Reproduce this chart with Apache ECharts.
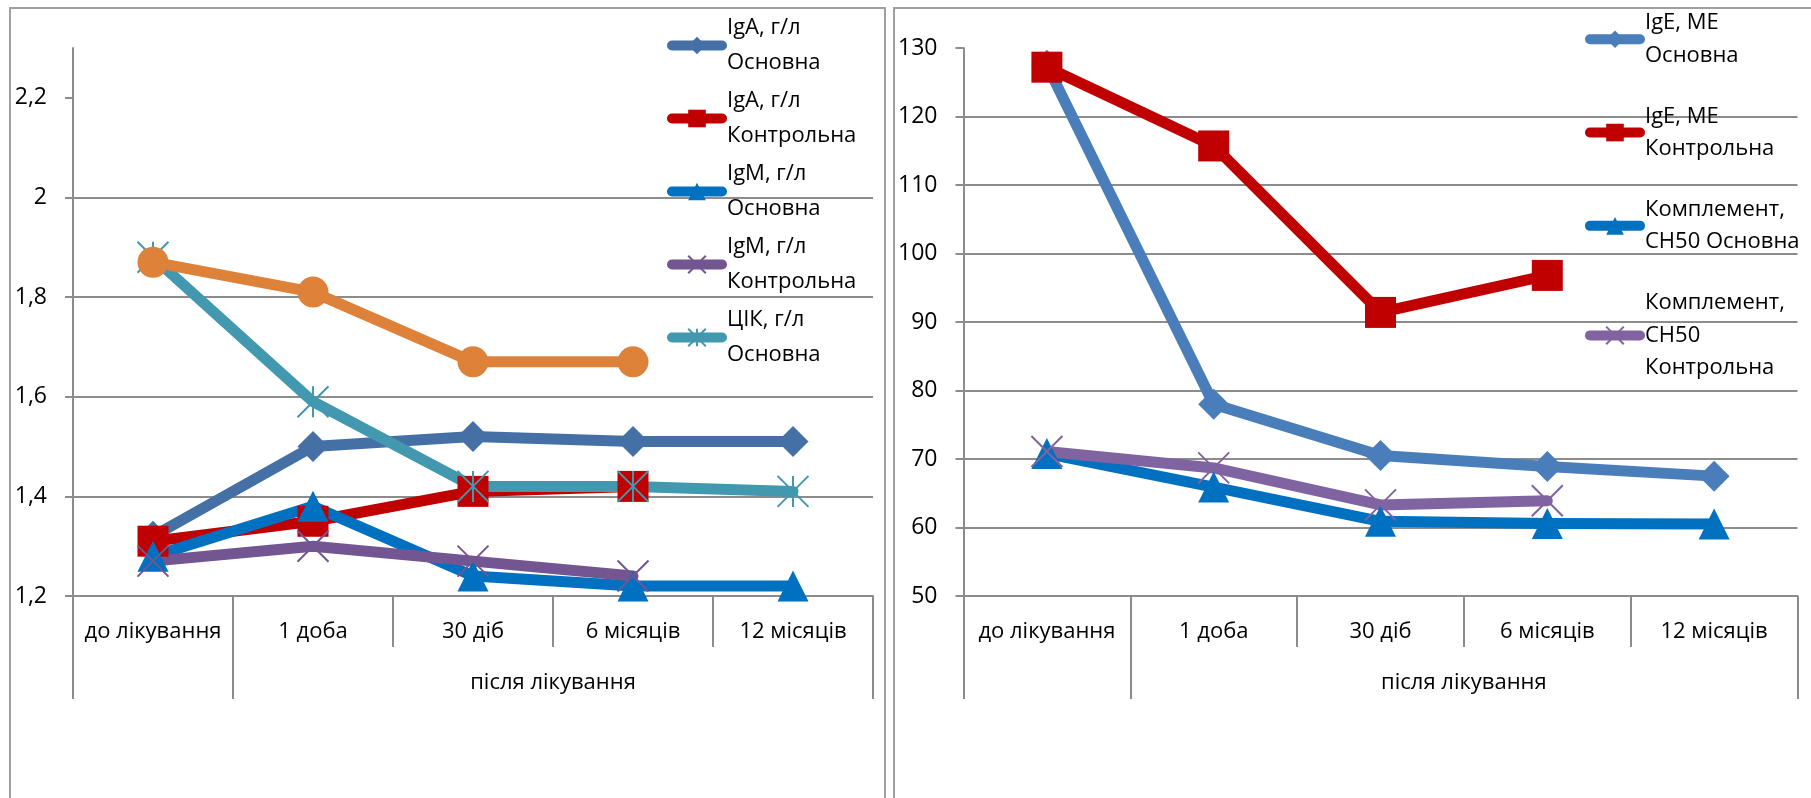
<!DOCTYPE html>
<html>
<head>
<meta charset="utf-8">
<script src="https://cdn.jsdelivr.net/npm/echarts@6/dist/echarts.min.js"></script>
<style>
  html, body { margin: 0; padding: 0; background: #fff; }
  #chart { width: 1811px; height: 798px; }
</style>
</head>
<body>
<div id="chart"></div>
<script>
// Time points of the observation and the group caption under the last four
const categories = ['до лікування', '1 доба', '30 діб', '6 місяців', '12 місяців'];
const groupLabel = 'після лікування';

// Left panel, г/л
const leftTicks = [1.2, 1.4, 1.6, 1.8, 2, 2.2];
const igaMain = [1.32, 1.50, 1.52, 1.51, 1.51];
const igaControl = [1.31, 1.35, 1.41, 1.42, null];
const igmMain = [1.28, 1.38, 1.24, 1.22, 1.22];
const igmControl = [1.27, 1.30, 1.27, 1.24, null];
const cicMain = [1.88, 1.59, 1.42, 1.42, 1.41];
const cicControl = [1.87, 1.81, 1.67, 1.67, null];

// Right panel
const rightTicks = [50, 60, 70, 80, 90, 100, 110, 120, 130];
const igeMain = [127.5, 78, 70.5, 68.9, 67.5];
const igeControl = [127.2, 115.7, 91.4, 96.8, null];
const complMain = [70.8, 65.9, 60.9, 60.6, 60.5];
const complControl = [71.1, 68.7, 63.3, 63.9, null];

const FONT = 'Open Sans';
const AXIS_GRAY = '#8c8c8c';
const FRAME_GRAY = '#a0a0a0';
const TEXT = { fontFamily: FONT, fontSize: 22, color: '#000' };

const X_MARK = 'path://M0,0L10,10M10,0L0,10';
const STAR_MARK = 'path://M0,0L10,10M10,0L0,10M5,0L5,10';

const commaNum = v => String(+(+v).toFixed(1)).replace('.', ',');

function categoryAxis(gridIndex) {
  return {
    type: 'category', gridIndex, data: categories, boundaryGap: true,
    axisLine: { show: true, lineStyle: { color: AXIS_GRAY, width: 2 } },
    axisTick: { show: true, interval: 0, length: 51, lineStyle: { color: AXIS_GRAY, width: 2 } },
    axisLabel: Object.assign({ interval: 0, margin: 25 }, TEXT),
    splitLine: { show: false }
  };
}

// Second row of the axis: separators and the shared caption for the post-treatment points
function groupAxis(gridIndex) {
  const n = categories.length;
  return {
    type: 'value', gridIndex, min: 0, max: n, position: 'bottom',
    axisLine: { show: false }, splitLine: { show: false },
    axisTick: { show: true, customValues: [0, 1, n], length: 103, lineStyle: { color: AXIS_GRAY, width: 2 } },
    axisLabel: Object.assign({ show: true, customValues: [(1 + n) / 2], formatter: () => groupLabel, margin: 76 }, TEXT)
  };
}

function valueAxis(gridIndex, min, max, interval, ticks, fmt) {
  return {
    type: 'value', gridIndex, min, max, interval,
    axisLine: { show: true, lineStyle: { color: AXIS_GRAY, width: 2 } },
    axisTick: { show: true, length: 8, customValues: ticks, lineStyle: { color: AXIS_GRAY, width: 2 } },
    axisLabel: Object.assign({ customValues: ticks, formatter: fmt, margin: 26 }, TEXT, { fontSize: 23 }),
    splitLine: { show: true, showMaxLine: false, lineStyle: { color: AXIS_GRAY, width: 2 } }
  };
}

function lineSeries(name, data, color, symbol, axisIndex, stroked) {
  return {
    type: 'line', name, data,
    xAxisIndex: axisIndex * 2, yAxisIndex: axisIndex,
    symbol, symbolSize: 31, showAllSymbol: true,
    lineStyle: { color, width: 11, cap: 'round', join: 'round' },
    itemStyle: stroked
      ? { color: 'rgba(0,0,0,0)', borderColor: color, borderWidth: 2 }
      : { color },
    emphasis: { disabled: true },
    animation: false
  };
}

const S = {
  igaMain: 'IgA, г/л\nОсновна',
  igaControl: 'IgA, г/л\nКонтрольна',
  igmMain: 'IgM, г/л\nОсновна',
  igmControl: 'IgM, г/л\nКонтрольна',
  cicMain: 'ЦІК, г/л\nОсновна',
  cicControl: 'ЦІК, г/л\nКонтрольна',
  igeMain: 'IgE, МЕ\nОсновна',
  igeControl: 'IgE, МЕ\nКонтрольна',
  complMain: 'Комплемент,\nCH50 Основна',
  complControl: 'Комплемент,\nCH50\nКонтрольна'
};

const legendBase = {
  orient: 'vertical', padding: 0, itemWidth: 50, itemHeight: 22,
  selectedMode: false,
  lineStyle: { width: 10, cap: 'round' }
};

const option = {
  backgroundColor: '#fff',
  animation: false,
  textStyle: { fontFamily: FONT },
  graphic: [
    { type: 'rect', silent: true, shape: { x: 10, y: 8, width: 875, height: 900 },
      style: { fill: 'none', stroke: FRAME_GRAY, lineWidth: 2 } },
    { type: 'rect', silent: true, shape: { x: 894, y: 8, width: 1000, height: 900 },
      style: { fill: 'none', stroke: FRAME_GRAY, lineWidth: 2 } }
  ],
  grid: [
    { left: 73, right: 938, top: 48, bottom: 202 },
    { left: 963.5, right: 13.5, top: 48, bottom: 202 }
  ],
  xAxis: [categoryAxis(0), groupAxis(0), categoryAxis(1), groupAxis(1)],
  yAxis: [
    valueAxis(0, 1.2, 2.3, 0.2, leftTicks, commaNum),
    valueAxis(1, 50, 130, 10, rightTicks, v => String(v))
  ],
  legend: [
    Object.assign({}, legendBase, {
      left: 667, top: 17, itemGap: 16,
      textStyle: Object.assign({ lineHeight: 35, padding: [0, 0, -35, 0] }, TEXT),
      data: [S.igaMain, S.igaControl, S.igmMain, S.igmControl, S.cicMain]
    }),
    Object.assign({}, legendBase, {
      left: 1585, top: 12, itemGap: 38.8,
      textStyle: Object.assign({ lineHeight: 32.5, padding: [0, 0, -32.5, 0] }, TEXT),
      data: [
        S.igeMain, S.igeControl, S.complMain,
        { name: S.complControl, textStyle: { padding: [0, 0, -65, 0] } }
      ]
    })
  ],
  series: [
    lineSeries(S.igaMain, igaMain, '#4470a6', 'diamond', 0),
    lineSeries(S.igaControl, igaControl, '#c00000', 'rect', 0),
    lineSeries(S.igmMain, igmMain, '#0070c0', 'triangle', 0),
    lineSeries(S.igmControl, igmControl, '#735592', X_MARK, 0, true),
    lineSeries(S.cicMain, cicMain, '#4198af', STAR_MARK, 0, true),
    lineSeries(S.cicControl, cicControl, '#de8139', 'circle', 0),
    lineSeries(S.igeMain, igeMain, '#4a7ebb', 'diamond', 1),
    lineSeries(S.igeControl, igeControl, '#c00000', 'rect', 1),
    lineSeries(S.complMain, complMain, '#0070c0', 'triangle', 1),
    lineSeries(S.complControl, complControl, '#8064a2', X_MARK, 1, true)
  ]
};

const chart = echarts.init(document.getElementById('chart'), null, { renderer: 'canvas' });
chart.setOption(option);
</script>
</body>
</html>
